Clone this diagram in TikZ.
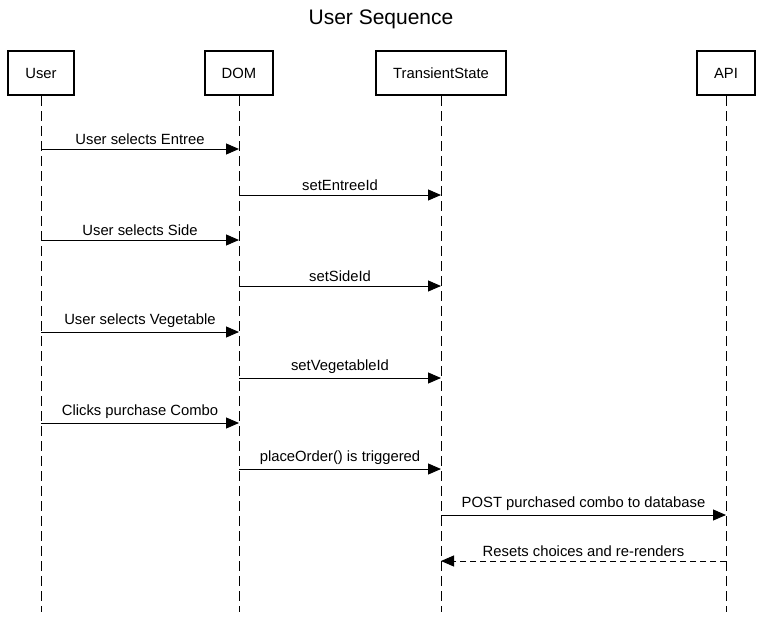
\documentclass[tikz,border=0pt]{standalone}
\usepackage{fontspec}
\setmainfont{Liberation Sans}
\usetikzlibrary{arrows.meta}

\tikzset{
  actor/.style={draw, line width=2pt, minimum height=44pt, inner xsep=17pt, font=\fontsize{14.8}{17}\selectfont},
  lifeline/.style={line width=1pt, dash pattern=on 10pt off 5pt},
  msg/.style={line width=1pt, -{Triangle[length=13pt,width=11pt]}},
  reply/.style={msg, dashed, dash pattern=on 6pt off 4pt},
  lbl/.style={above, inner sep=2pt, yshift=2pt, font=\fontsize{14.8}{17}\selectfont}
}

\begin{document}
\begin{tikzpicture}[x=1pt, y=-1pt]
\useasboundingbox (0,0) rectangle (763,618);

\node[font=\fontsize{21}{25}\selectfont] (title) at (381,19) {User Sequence};

\node[actor] (user) at (41,73) {User};
\node[actor] (dom) at (239,73) {DOM};
\node[actor] (state) at (441,73) {TransientState};
\node[actor] (api) at (726,73) {API};

\coordinate (userend) at (41,612);
\coordinate (domend) at (239,612);
\coordinate (stateend) at (441,612);
\coordinate (apiend) at (726,612);

\draw[lifeline] (user.south) -- (userend);
\draw[lifeline] (dom.south) -- (domend);
\draw[lifeline] (state.south) -- (stateend);
\draw[lifeline] (api.south) -- (apiend);

% messages
\coordinate (u1) at (41,149); \coordinate (d1) at (239,149);
\coordinate (d2) at (239,195); \coordinate (s2) at (441,195);
\coordinate (u3) at (41,240); \coordinate (d3) at (239,240);
\coordinate (d4) at (239,286); \coordinate (s4) at (441,286);
\coordinate (u5) at (41,332); \coordinate (d5) at (239,332);
\coordinate (d6) at (239,378); \coordinate (s6) at (441,378);
\coordinate (u7) at (41,423); \coordinate (d7) at (239,423);
\coordinate (d8) at (239,469); \coordinate (s8) at (441,469);
\coordinate (s9) at (441,515); \coordinate (a9) at (726,515);
\coordinate (a10) at (726,561); \coordinate (s10) at (441,561);

\draw[msg] (u1) -- node[lbl] {User selects Entree} (d1);
\draw[msg] (d2) -- node[lbl] {setEntreeId} (s2);
\draw[msg] (u3) -- node[lbl] {User selects Side} (d3);
\draw[msg] (d4) -- node[lbl] {setSideId} (s4);
\draw[msg] (u5) -- node[lbl] {User selects Vegetable} (d5);
\draw[msg] (d6) -- node[lbl] {setVegetableId} (s6);
\draw[msg] (u7) -- node[lbl] {Clicks purchase Combo} (d7);
\draw[msg] (d8) -- node[lbl] {placeOrder() is triggered} (s8);
\draw[msg] (s9) -- node[lbl] {POST purchased combo to database} (a9);
\draw[reply] (a10) -- node[lbl] {Resets choices and re-renders} (s10);
\end{tikzpicture}
\end{document}
